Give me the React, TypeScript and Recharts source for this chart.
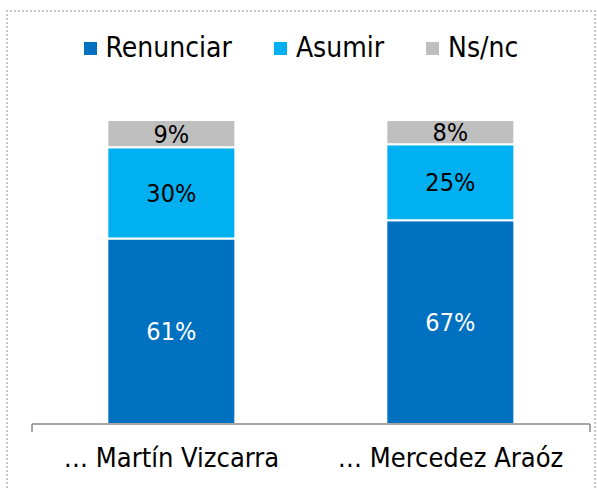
import { BarChart, Bar, XAxis, YAxis, LabelList } from "recharts";

// Datos de la encuesta
const CANDIDATOS = ["… Martín Vizcarra", "… Mercedez Araóz"];
const RENUNCIAR = [61, 67];
const ASUMIR = [30, 25];
const NSNC = [9, 8];

const SERIES = [
  { key: "Renunciar", color: "#0070C0", label: "#FFFFFF" },
  { key: "Asumir", color: "#00B0F0", label: "#000000" },
  { key: "Ns/nc", color: "#BFBFBF", label: "#000000" },
];

const data = CANDIDATOS.map((nombre, i) => ({
  nombre,
  Renunciar: RENUNCIAR[i],
  Asumir: ASUMIR[i],
  "Ns/nc": NSNC[i],
}));

const FONT = "'DejaVu Sans Condensed', 'DejaVu Sans', sans-serif";

function Leyenda() {
  return (
    <div
      style={{
        position: "absolute",
        left: 0,
        top: 31,
        width: 602,
        display: "flex",
        justifyContent: "center",
        alignItems: "center",
        fontFamily: FONT,
        fontSize: 28,
        lineHeight: "34px",
        color: "#000",
      }}
    >
      {SERIES.map((s, i) => (
        <div key={s.key} style={{ display: "flex", alignItems: "center", marginRight: i < SERIES.length - 1 ? 42 : 0 }}>
          <span style={{ width: 13, height: 13, background: s.color, marginRight: 9, display: "inline-block" }} />
          <span>{s.key}</span>
        </div>
      ))}
    </div>
  );
}

export default function App() {
  return (
    <div style={{ position: "absolute", left: 0, top: 0, width: 597, height: 488, background: "#fff", overflow: "hidden" }}>
      <div style={{ position: "absolute", left: 6, top: 10, width: 590, height: 490, border: "2px dotted #c8c8c8", boxSizing: "border-box" }} />
      <BarChart
        width={597}
        height={488}
        data={data}
        margin={{ top: 120, right: 7, bottom: 14, left: 32 }}
        barCategoryGap="27%"
        style={{ position: "absolute", left: 0, top: 0 }}
      >
        <XAxis
          xAxisId="b"
          dataKey="nombre"
          height={49}
          axisLine={false}
          tickLine={false}
          tick={{ fill: "#000", fontSize: 27, fontFamily: FONT }}
          dy={15}
        />
        {/* eje con marcas en los límites de cada categoría */}
        <XAxis
          xAxisId="a"
          type="number"
          domain={[0, 2]}
          ticks={[0, 1, 2]}
          height={1}
          tickSize={8}
          tickFormatter={() => ""}
          stroke="#898989"
          axisLine={{ stroke: "#898989", strokeWidth: 1.5 }}
          tickLine={{ stroke: "#898989", strokeWidth: 1.5 }}
        />
        <YAxis hide domain={[0, 100]} />
        {SERIES.map((s) => (
          <Bar key={s.key} xAxisId="b" dataKey={s.key} stackId="a" fill={s.color} stroke="#fff" strokeWidth={2} isAnimationActive={false}>
            <LabelList
              dataKey={s.key}
              position="center"
              fill={s.label}
              fontSize={25}
              fontFamily={FONT}
              formatter={(v: any) => `${v}%`}
            />
          </Bar>
        ))}
      </BarChart>
      <Leyenda />
    </div>
  );
}
